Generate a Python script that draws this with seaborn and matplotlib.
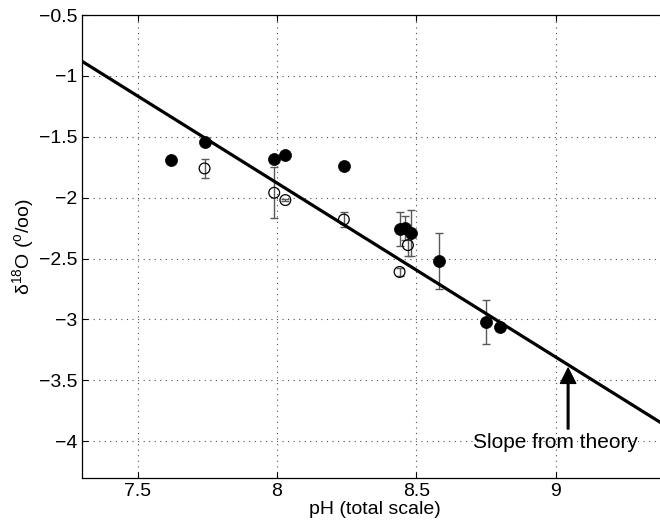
import numpy as np
import pandas as pd
import seaborn as sns
import matplotlib.pyplot as plt

# measured points (filled = one series, open = other series)
ph_filled = [7.62, 7.74, 7.99, 8.03, 8.24, 8.44, 8.46, 8.48, 8.58, 8.75, 8.80]
d18o_filled = [-1.69, -1.54, -1.68, -1.65, -1.74, -2.26, -2.25, -2.29, -2.52, -3.02, -3.06]
err_filled = [0, 0, 0, 0, 0, 0.14, 0.10, 0.19, 0.23, 0.18, 0]

ph_open = [7.74, 7.99, 8.03, 8.24, 8.44, 8.47]
d18o_open = [-1.76, -1.96, -2.02, -2.18, -2.61, -2.39]
err_open = [0.08, 0.21, 0.01, 0.065, 0.03, 0.09]

# theory line end points
theory_ph = [7.3, 9.4]
theory_d18o = [-0.88, -3.88]

xticks = [7.5, 8, 8.5, 9]
yticks = [-0.5, -1, -1.5, -2, -2.5, -3, -3.5, -4]

sns.set_style("ticks")
plt.rcParams['font.family'] = ['Liberation Sans', 'DejaVu Sans']
plt.rcParams['mathtext.fontset'] = 'custom'
plt.rcParams['mathtext.rm'] = 'Liberation Sans'
plt.rcParams['mathtext.it'] = 'Liberation Sans:italic'
plt.rcParams['xtick.direction'] = 'in'
plt.rcParams['ytick.direction'] = 'in'
plt.rcParams['text.color'] = 'black'
plt.rcParams['axes.labelcolor'] = 'black'

fig = plt.figure(figsize=(6.6, 5.28), dpi=100)
ax = fig.add_axes([82 / 660, 1 - 477.7 / 528, 585 / 660, (477.7 - 15) / 528])

filled = pd.DataFrame({'ph': ph_filled, 'd18o': d18o_filled, 'err': err_filled})
opened = pd.DataFrame({'ph': ph_open, 'd18o': d18o_open, 'err': err_open})
theory = pd.DataFrame({'ph': theory_ph, 'd18o': theory_d18o})

# error bars
for df in [filled, opened]:
    e = df[df.err > 0]
    ax.errorbar(e.ph, e.d18o, yerr=e.err, fmt='none', ecolor='0.35',
                elinewidth=1.0, capsize=3, capthick=1.0, zorder=2)

sns.lineplot(data=theory, x='ph', y='d18o', ax=ax, color='black', lw=2.3, zorder=3)
sns.scatterplot(data=filled, x='ph', y='d18o', ax=ax, color='black', s=75,
                edgecolor='black', linewidth=0.5, zorder=4)
sns.scatterplot(data=opened, x='ph', y='d18o', ax=ax, facecolor='none', s=60,
                edgecolor='black', linewidth=0.9, zorder=4)

ax.annotate('', xy=(9.045, -3.40), xytext=(9.045, -3.90),
            arrowprops=dict(facecolor='black', edgecolor='black', width=1.2,
                            headwidth=11, headlength=11, shrink=0))
ax.text(9.0, -4.01, 'Slope from theory', ha='center', va='center', fontsize=15)

ax.set_xlim(7.3, 9.4)
ax.set_ylim(-4.3, -0.5)
ax.set_xticks(xticks)
ax.set_xticklabels(['7.5', '8', '8.5', '9'])
ax.set_yticks(yticks)
ax.set_yticklabels(['\u22120.5', '\u22121', '\u22121.5', '\u22122', '\u22122.5', '\u22123', '\u22123.5', '\u22124'])
ax.tick_params(labelsize=14, length=4, width=0.8, top=True, right=True,
               colors='black', labelcolor='black')
ax.grid(True, color='0.3', linestyle=(0, (1, 4)), linewidth=0.8)
for sp in ax.spines.values():
    sp.set_color('black')
    sp.set_linewidth(0.9)

ax.set_xlabel('pH (total scale)', fontsize=14, labelpad=1)
ax.set_ylabel('\u03b4$^{18}$O ($^{\\mathrm{o}}$/oo)', fontsize=14, labelpad=2)

plt.savefig('out.png', dpi=100)
